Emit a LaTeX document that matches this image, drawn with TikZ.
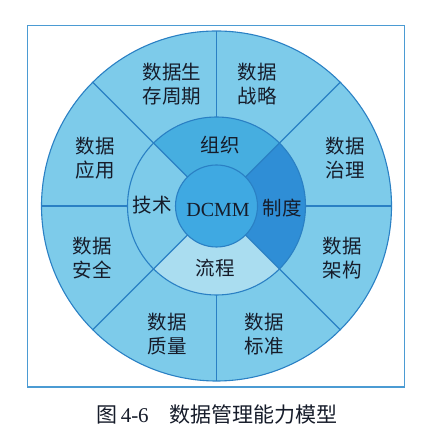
\documentclass[tikz,border=0pt]{standalone}
\usepackage{fontspec}
\newfontfamily\cjk{Noto Sans CJK SC}
\newfontfamily\latinserif{Liberation Serif}
\definecolor{outerc}{HTML}{7DCBEA}
\definecolor{orgc}{HTML}{46AEE0}
\definecolor{sysc}{HTML}{2F8ED6}
\definecolor{procc}{HTML}{AADDF0}
\definecolor{corec}{HTML}{3FA9E2}
\definecolor{linec}{HTML}{2A80C4}
\definecolor{framec}{HTML}{4B9BD3}
\definecolor{txtc}{HTML}{161C2A}
\tikzset{
  lab/.style={font=\cjk\fontsize{19.5}{24}\selectfont, text=txtc, align=center, inner sep=0pt},
  mid/.style={font=\cjk\fontsize{19.5}{24}\selectfont, text=txtc, inner sep=0pt},
  sep/.style={draw=linec, line width=1.1pt},
}
\begin{document}
\begin{tikzpicture}[x=1pt,y=1pt]
\useasboundingbox (0,0) rectangle (435,441);
\coordinate (O) at (216.5,235);
% frame
\draw[framec, line width=1.2pt] (27.5,415.5) rectangle (404.5,54);
% outer disk
\fill[outerc] (O) circle (175);
% middle ring sectors
\fill[orgc] ([shift={(45:41)}]O) -- ([shift={(45:89)}]O) arc[start angle=45,end angle=135,radius=89] -- ([shift={(135:41)}]O) arc[start angle=135,end angle=45,radius=41] -- cycle;
\fill[sysc] ([shift={(-45:41)}]O) -- ([shift={(-45:89)}]O) arc[start angle=-45,end angle=45,radius=89] -- ([shift={(45:41)}]O) arc[start angle=45,end angle=-45,radius=41] -- cycle;
\fill[procc] ([shift={(225:41)}]O) -- ([shift={(225:89)}]O) arc[start angle=225,end angle=315,radius=89] -- ([shift={(315:41)}]O) arc[start angle=315,end angle=225,radius=41] -- cycle;
% core
\fill[corec] (O) circle (41);
% separators
\foreach \a in {45,135,225,315} \draw[sep] ([shift={(\a:41)}]O) -- ([shift={(\a:175)}]O);
\foreach \a in {0,90,180,270} \draw[sep] ([shift={(\a:89)}]O) -- ([shift={(\a:175)}]O);
\draw[sep] (O) circle (175);
\draw[sep] (O) circle (89);
\draw[sep] (O) circle (41);
% outer labels
\node[lab] (lc) at (172,357) {数据生\\存周期};
\node[lab] (st) at (257,357) {数据\\战略};
\node[lab] (gv) at (345,282.5) {数据\\治理};
\node[lab] (ar) at (342,182.5) {数据\\架构};
\node[lab] (sd) at (264,107) {数据\\标准};
\node[lab] (ql) at (167,107) {数据\\质量};
\node[lab] (sc) at (92,182.5) {数据\\安全};
\node[lab] (ap) at (95,282.5) {数据\\应用};
% middle labels
\node[mid] (org) at (220,296) {组织};
\node[mid] (tec) at (152,236) {技术};
\node[mid] (sys) at (282,233) {制度};
\node[mid] (pro) at (215,173) {流程};
\node[inner sep=0pt, text=txtc, font=\latinserif\fontsize{20}{22}\selectfont] (core) at (218,231) {DCMM};
% caption
\node[inner sep=0pt, text=txtc, font=\cjk\fontsize{21}{24}\selectfont] (cap) at (217,26) {图\,{\latinserif 4-6}\quad 数据管理能力模型};
\end{tikzpicture}
\end{document}
